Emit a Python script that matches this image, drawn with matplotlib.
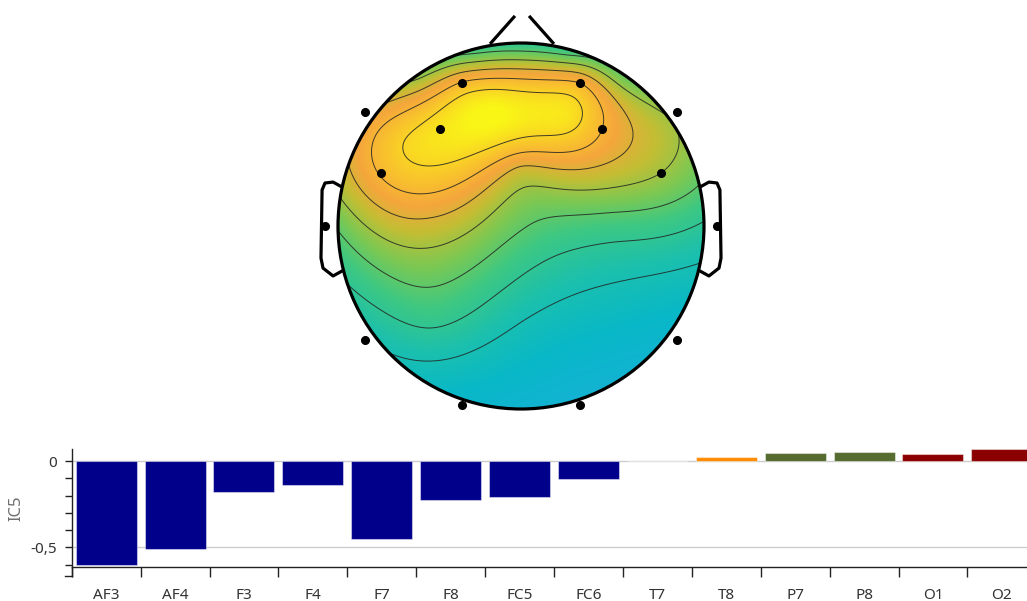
import numpy as np
import matplotlib
matplotlib.use("Agg")
import matplotlib.pyplot as plt
from matplotlib.colors import LinearSegmentedColormap
from matplotlib.patches import Circle

plt.rcParams["font.family"] = ["Noto Sans", "DejaVu Sans"]

# ---------------- data ----------------
channels = ["AF3", "AF4", "F3", "F4", "F7", "F8", "FC5", "FC6",
            "T7", "T8", "P7", "P8", "O1", "O2"]
ic5_weights = [-0.602, -0.510, -0.181, -0.140, -0.450, -0.225, -0.211, -0.106,
               0.0, 0.023, 0.046, 0.054, 0.039, 0.068]
regions = ["frontal"] * 8 + ["temporal"] * 2 + ["parietal"] * 2 + ["occipital"] * 2
region_colors = {"frontal": "#00008B", "temporal": "#FF8C00",
                 "parietal": "#556B2F", "occipital": "#8B0000"}
y_label = "IC5"
y_major = [0, -0.5]
y_major_labels = ["0", "-0,5"]

# topographic map level at each electrode (0 = blue end, 1 = yellow end)
topo_values = [0.76, 0.75, 0.90, 0.75, 0.64, 0.52, 0.76, 0.55,
               0.42, 0.32, 0.25, 0.10, 0.12, 0.04]
# map level (angle in degrees, 90 = nose)
border_angles = [55, 75, 90, 105, 125]
border_values = [0.46, 0.38, 0.36, 0.40, 0.52]
# map level read at a few points inside the head (x, y in head radii)
sample_x = [0.0, 0.0, 0.0, -0.5, -0.5, 0.5, 0.5, -0.15, 0.25, -0.62]
sample_y = [0.3, 0.0, -0.5, 0.0, -0.5, 0.0, -0.5, 0.63, 0.60, 0.45]
sample_values = [0.62, 0.46, 0.26, 0.62, 0.38, 0.40, 0.18, 0.96, 0.90, 0.86]
contour_levels = [0.25, 0.35, 0.45, 0.55, 0.65, 0.75, 0.85]

# 2-D electrode layout (head radius = 1)
montage = {
    "AF3": (-0.322, 0.781), "AF4": (0.322, 0.781),
    "F3": (-0.443, 0.530), "F4": (0.443, 0.530),
    "F7": (-0.852, 0.623), "F8": (0.852, 0.623),
    "FC5": (-0.765, 0.290), "FC6": (0.765, 0.290),
    "T7": (-1.071, 0.0), "T8": (1.071, 0.0),
    "P7": (-0.852, -0.623), "P8": (0.852, -0.623),
    "O1": (-0.322, -0.978), "O2": (0.322, -0.978),
}

# ---------------- figure ----------------
W, H = 1027, 601
fig = plt.figure(figsize=(W / 100, H / 100), dpi=100)

# ---- topomap ----
cx, cy, R = 521, 226, 183
px0, px1, py0, py1 = 300, 742, 0, 420
axt = fig.add_axes([px0 / W, (H - py1) / H, (px1 - px0) / W, (py1 - py0) / H])
axt.set_xlim((px0 - cx) / R, (px1 - cx) / R)
axt.set_ylim(-(py1 - cy) / R, (cy - py0) / R)
axt.axis("off")

pts = [montage[c] for c in channels]
vals = list(topo_values)
for a, v in zip(border_angles, border_values):
    pts.append((np.cos(np.deg2rad(a)), np.sin(np.deg2rad(a))))
    vals.append(v)
for x, y, v in zip(sample_x, sample_y, sample_values):
    pts.append((x, y))
    vals.append(v)
pts = np.array(pts)
vals = np.array(vals)


def tps(p, v, gx, gy):
    n = len(p)
    d = np.sqrt(((p[:, None, :] - p[None, :, :]) ** 2).sum(-1))
    K = np.where(d > 0, d ** 2 * np.log(np.maximum(d, 1e-12)), 0.0)
    P = np.hstack([np.ones((n, 1)), p])
    A = np.zeros((n + 3, n + 3))
    A[:n, :n] = K
    A[:n, n:] = P
    A[n:, :n] = P.T
    b = np.concatenate([v, np.zeros(3)])
    s = np.linalg.solve(A, b)
    w, c = s[:n], s[n:]
    q = np.stack([gx.ravel(), gy.ravel()], 1)
    dq = np.sqrt(((q[:, None, :] - p[None, :, :]) ** 2).sum(-1))
    Kq = np.where(dq > 0, dq ** 2 * np.log(np.maximum(dq, 1e-12)), 0.0)
    z = Kq @ w + c[0] + q @ c[1:]
    return z.reshape(gx.shape)


g = np.linspace(-1.02, 1.02, 300)
gx, gy = np.meshgrid(g, g)
z = tps(pts, vals, gx, gy)

cmap = LinearSegmentedColormap.from_list("topo", [
    (0.00, (24 / 255, 176 / 255, 216 / 255)),
    (0.15, (8 / 255, 184 / 255, 200 / 255)),
    (0.28, (28 / 255, 192 / 255, 172 / 255)),
    (0.40, (62 / 255, 200 / 255, 130 / 255)),
    (0.50, (125 / 255, 200 / 255, 82 / 255)),
    (0.60, (195 / 255, 190 / 255, 52 / 255)),
    (0.70, (245 / 255, 166 / 255, 60 / 255)),
    (0.82, (249 / 255, 200 / 255, 42 / 255)),
    (0.95, (249 / 255, 246 / 255, 22 / 255)),
    (1.00, (249 / 255, 249 / 255, 20 / 255)),
])

head_clip = Circle((0, 0), 1.0, transform=axt.transData)
im = axt.imshow(z, extent=(g[0], g[-1], g[0], g[-1]), origin="lower",
                cmap=cmap, vmin=0, vmax=1, interpolation="bilinear", zorder=1)
im.set_clip_path(head_clip)
cs = axt.contour(gx, gy, z, levels=contour_levels, colors="#222222",
                 linewidths=0.7, alpha=0.85, zorder=2)
cs.set_clip_path(head_clip)

axt.add_patch(Circle((0, 0), 1.0, fill=False, lw=2.3, ec="black", zorder=4))
axt.plot([-0.169, -0.033], [0.995, 1.148], color="black", lw=2.3, zorder=4,
         solid_capstyle="butt")
axt.plot([0.044, 0.180], [1.148, 0.995], color="black", lw=2.3, zorder=4,
         solid_capstyle="butt")
ear_x = np.array([-0.989, -1.027, -1.071, -1.087, -1.093, -1.082, -1.027, -0.978])
ear_y = np.array([0.219, 0.240, 0.235, 0.197, -0.175, -0.230, -0.273, -0.246])
axt.plot(ear_x, ear_y, color="black", lw=2.3, zorder=4, solid_joinstyle="round")
axt.plot(-ear_x, ear_y, color="black", lw=2.3, zorder=4, solid_joinstyle="round")

ex = [montage[c][0] for c in channels]
ey = [montage[c][1] for c in channels]
axt.plot(ex, ey, "o", color="black", ms=5.5, zorder=5, clip_on=False)

# ---- bar chart ----
bx0, bx1 = 71.7, 71.7 + 14 * 68.9
by_top, by_bot = 449.3, 567.0
axb = fig.add_axes([bx0 / W, (H - by_bot) / H, (bx1 - bx0) / W, (by_bot - by_top) / H])
n = len(channels)
xpos = np.arange(n) + 0.5
axb.bar(xpos, ic5_weights, width=0.885,
        color=[region_colors[r] for r in regions],
        edgecolor=(1, 1, 1, 0.45), linewidth=0.8, zorder=2)
for yv in y_major:
    axb.axhline(yv, color="#cccccc", lw=1.0, zorder=1)
axb.set_xlim(0, n)
axb.set_ylim(-0.614, 0.068)

for s in ["top", "right"]:
    axb.spines[s].set_visible(False)
axb.spines["left"].set_color("#222222")
axb.spines["bottom"].set_color("#222222")
axb.spines["left"].set_linewidth(1.0)
axb.spines["bottom"].set_linewidth(1.0)

axb.set_yticks(y_major)
axb.set_yticklabels(y_major_labels)
axb.set_yticks([-0.6, -0.4, -0.3, -0.2, -0.1], minor=True)
axb.tick_params(axis="y", which="both", direction="out", length=5.2, width=1.0,
                color="#222222", labelsize=11, labelcolor="#333333", pad=5.5)

axb.set_xticks(np.arange(n + 1))
axb.set_xticklabels([])
axb.set_xticks(xpos, minor=True)
axb.set_xticklabels(channels, minor=True)
axb.tick_params(axis="x", which="major", direction="out", length=7.2, width=1.0,
                color="#222222")
axb.tick_params(axis="x", which="minor", length=0, labelsize=11,
                labelcolor="#333333", pad=15)

# spine extension below the x axis with end tick
k = 7 / 68.9
axb.plot([0, 0], [-0.665, -0.614], color="#222222", lw=1.0, clip_on=False)
axb.plot([-k, 0], [-0.665, -0.665], color="#222222", lw=1.0, clip_on=False)

axb.set_ylabel(y_label, fontsize=12, color="#707070")
axb.yaxis.set_label_coords(-(71.7 - 24) / (bx1 - bx0), 0.5)

fig.savefig("out.png", dpi=100)
